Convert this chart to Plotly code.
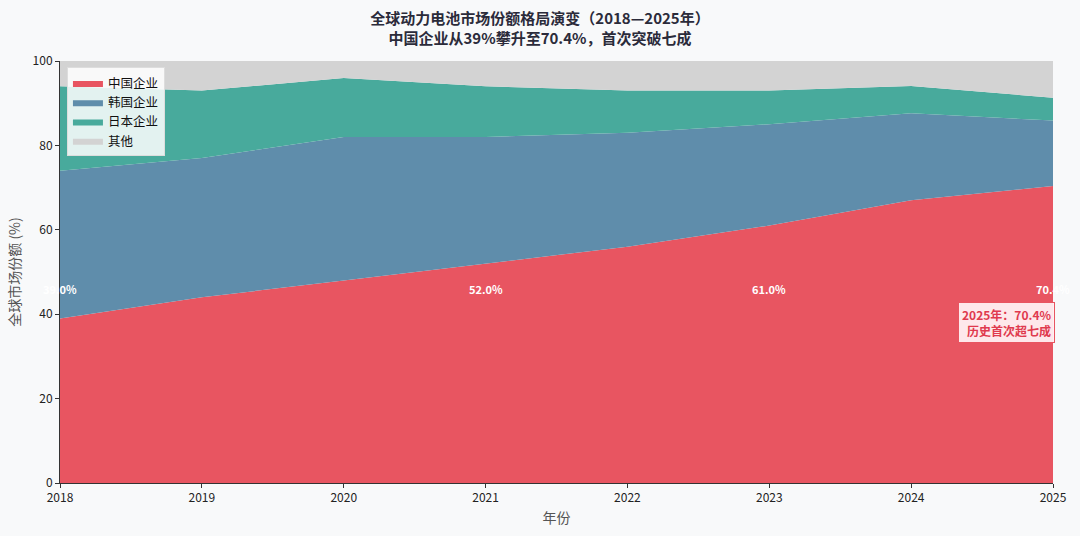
import plotly.graph_objects as go

years = [2018, 2019, 2020, 2021, 2022, 2023, 2024, 2025]
china = [39.0, 44.0, 48.0, 52.0, 56.0, 61.0, 67.0, 70.4]
korea = [35.0, 33.0, 34.0, 30.0, 27.0, 24.0, 20.6, 15.5]
japan = [20.0, 16.0, 14.0, 12.0, 10.0, 8.0, 6.5, 5.4]
others = [round(100 - c - k - j, 1) for c, k, j in zip(china, korea, japan)]

series_names = ["中国企业", "韩国企业", "日本企业", "其他"]
series_colors = ["#e85561", "#5f8dab", "#48aa9c", "#d3d3d3"]

label_years = [2018, 2021, 2023, 2025]
label_texts = ["39.0%", "52.0%", "61.0%", "70.4%"]
label_y = 46

FONT = "Noto Sans CJK SC"

fig = go.Figure()
for name, vals, col in zip(series_names, [china, korea, japan, others], series_colors):
    fig.add_trace(go.Scatter(
        x=years, y=vals, name=name, mode="lines", stackgroup="one",
        line=dict(width=0, color=col), fillcolor=col, hoverinfo="x+y+name",
    ))

for yr, t in zip(label_years, label_texts):
    fig.add_annotation(x=yr, y=label_y, text=f"<b>{t}</b>", showarrow=False,
                       font=dict(color="white", size=11, family=FONT),
                       xanchor="center", yanchor="middle")

fig.add_annotation(x=2025, y=38, xref="x", yref="y",
                   text="<b>2025年：70.4%<br>历史首次超七成</b>", showarrow=False,
                   xanchor="right", yanchor="middle", align="right",
                   font=dict(color="#e03a4e", size=12, family=FONT),
                   bgcolor="rgba(255,240,242,0.95)", bordercolor="#e85561",
                   borderwidth=1, borderpad=3, xshift=2)

fig.update_layout(
    width=1080, height=536,
    paper_bgcolor="#f8f9fa", plot_bgcolor="#f8f9fa",
    font=dict(family=FONT, size=12, color="#222"),
    margin=dict(l=60, r=27, t=61, b=53),
    title=dict(text="<b>全球动力电池市场份额格局演变（2018—2025年）<br>中国企业从39%攀升至70.4%，首次突破七成</b>",
               x=0.5, xanchor="center", y=0.955, yanchor="middle",
               font=dict(size=15, color="#2b2b3a", family=FONT)),
    showlegend=True,
    legend=dict(x=0.007, y=0.985, xanchor="left", yanchor="top",
                bgcolor="rgba(255,255,255,0.85)", bordercolor="#dddddd", borderwidth=1,
                font=dict(size=12.5, family=FONT, color="#111"), traceorder="normal",
                tracegroupgap=0, itemwidth=30),
    xaxis=dict(range=[2018, 2025], tickmode="array", tickvals=years,
               ticktext=[str(y) for y in years], showgrid=False, zeroline=False,
               showline=True, linecolor="#333", linewidth=1, ticks="outside",
               ticklen=4, tickcolor="#333",
               title=dict(text="年份", font=dict(size=14, color="#555"), standoff=8)),
    yaxis=dict(range=[0, 100], tickvals=[0, 20, 40, 60, 80, 100], showgrid=False,
               zeroline=False, showline=True, linecolor="#333", linewidth=1,
               ticks="outside", ticklen=4, tickcolor="#333",
               title=dict(text="全球市场份额 (%)", font=dict(size=14, color="#555"), standoff=8)),
)

fig.write_html("out.html", config={"displayModeBar": False},
               post_script="document.body.style.margin='0';document.body.style.overflow='hidden';")
